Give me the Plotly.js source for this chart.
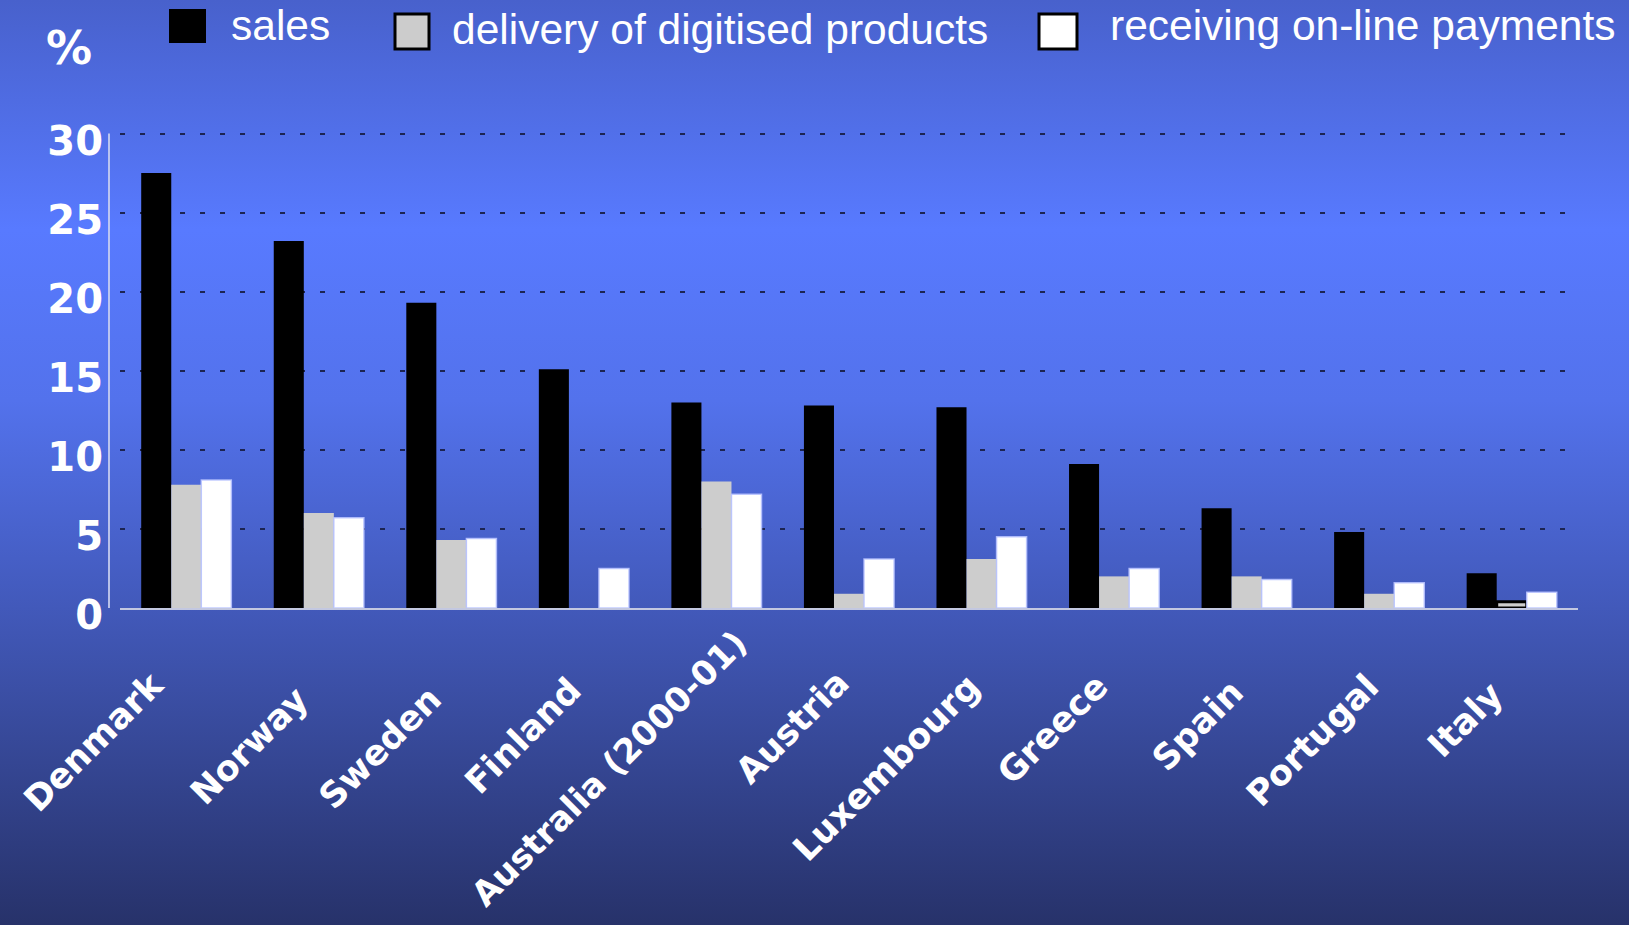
<!DOCTYPE html>
<html>
<head>
<meta charset="utf-8">
<script src="https://cdn.plot.ly/plotly-3.0.1.min.js"></script>
<style>
  html, body { margin: 0; padding: 0; }
  body {
    width: 1629px; height: 925px; overflow: hidden;
    background: linear-gradient(to bottom,
      rgb(72,97,204) 0px,
      rgb(88,122,255) 230px,
      rgb(83,114,236) 400px,
      rgb(66,89,186) 608px,
      rgb(39,50,106) 925px);
  }
  #chart { width: 1629px; height: 925px; }
</style>
</head>
<body>
<div id="chart"></div>
<script>
// ---- data ----
const categories = ['Denmark', 'Norway', 'Sweden', 'Finland', 'Australia (2000-01)', 'Austria',
                    'Luxembourg', 'Greece', 'Spain', 'Portugal', 'Italy'];
const seriesNames = ['sales', 'delivery of digitised products', 'receiving on-line payments'];
const sales     = [27.5, 23.2, 19.3, 15.1, 13.0, 12.8, 12.7, 9.1, 6.3, 4.8, 2.2];
const delivery  = [7.8, 6.0, 4.3, null, 8.0, 0.9, 3.1, 2.0, 2.0, 0.9, 0.4];
const receiving = [8.1, 5.7, 4.4, 2.5, 7.2, 3.1, 4.5, 2.5, 1.8, 1.6, 1.0];
const yTicks = [0, 5, 10, 15, 20, 25, 30];
const yUnit = '%';

// ---- styling: per-label placement of the rotated category labels (pixels) ----
const labelShiftX = [-14, -2, -1, 6, 40, 9, 7, 3, 6, 9, 0];
const labelTopY   = [663, 678, 678, 669, 621, 661, 665, 665, 670, 665, 673];
const labelSize   = [35, 35, 35, 35, 34, 35, 35, 35, 35, 35, 35];

// ---- layout geometry (pixels) ----
const W = 1629, H = 925;
const M = {l: 120, r: 51, t: 132, b: 317};
const pw = W - M.l - M.r, ph = H - M.t - M.b;
const xp = px => (px - M.l) / pw;
const yp = py => (H - M.b - py) / ph;

const boldFamily = 'DejaVu Sans, Verdana, sans-serif';
const labelFont = {family: boldFamily, size: 40, color: '#ffffff', weight: 'bold'};
const legendFont = {family: 'Liberation Sans, Arial, sans-serif', size: 42.5, color: '#ffffff'};

const traces = [
  {type: 'bar', name: seriesNames[0], x: categories, y: sales,
   marker: {color: '#000000', line: {width: 0}}},
  {type: 'bar', name: seriesNames[1], x: categories, y: delivery,
   marker: {color: '#cdcdcd',
            line: {color: categories.map((c, i) => i === categories.length - 1 ? '#000000' : 'rgba(0,0,0,0)'),
                   width: categories.map((c, i) => i === categories.length - 1 ? 3 : 0)}}},
  {type: 'bar', name: seriesNames[2], x: categories, y: receiving,
   marker: {color: '#ffffff', line: {color: 'rgba(185,195,255,0.85)', width: 1.5}}}
];

// custom legend
const legendItems = [
  {box: [169, 9, 206, 43], fill: '#000000', border: 0, tx: 229, ty: 26},
  {box: [395, 14, 429, 49], fill: '#cccccc', border: 3, tx: 450, ty: 29},
  {box: [1039, 14, 1077, 49], fill: '#ffffff', border: 3, tx: 1108, ty: 26}
];

const shapes = [
  // y axis line (sits left of the plot area)
  {type: 'line', xref: 'paper', yref: 'y', x0: xp(109), x1: xp(109), y0: 0, y1: 30,
   line: {color: 'rgba(205,210,240,0.85)', width: 2}}
];
const annotations = [
  {xref: 'paper', yref: 'paper', x: xp(69), y: yp(48), text: yUnit, showarrow: false,
   xanchor: 'center', yanchor: 'middle', font: {family: boldFamily, size: 46, color: '#ffffff', weight: 'bold'}}
];
legendItems.forEach((it, i) => {
  shapes.push({type: 'rect', xref: 'paper', yref: 'paper',
    x0: xp(it.box[0]), x1: xp(it.box[2]), y0: yp(it.box[3]), y1: yp(it.box[1]),
    fillcolor: it.fill, line: {color: '#000000', width: it.border}});
  annotations.push({xref: 'paper', yref: 'paper', x: xp(it.tx), y: yp(it.ty), text: seriesNames[i],
    showarrow: false, xanchor: 'left', yanchor: 'middle', font: legendFont});
});
// rotated category labels
categories.forEach((c, i) => {
  annotations.push({xref: 'x', yref: 'paper', x: c, y: yp(labelTopY[i]), xshift: labelShiftX[i],
    text: c, textangle: -45, showarrow: false, xanchor: 'right', yanchor: 'top',
    borderpad: 0, font: {family: boldFamily, size: labelSize[i], color: '#ffffff', weight: 'bold'}});
});

const layout = {
  width: W, height: H,
  margin: M,
  paper_bgcolor: 'rgba(0,0,0,0)',
  plot_bgcolor: 'rgba(0,0,0,0)',
  showlegend: false,
  barmode: 'group',
  bargap: 0.32,
  bargroupgap: 0,
  xaxis: {
    type: 'category', automargin: false, autorange: false,
    range: [-0.5, categories.length - 0.5],
    showline: true, linecolor: 'rgba(210,212,230,0.9)', linewidth: 2,
    showgrid: false, zeroline: false, ticks: '', showticklabels: false
  },
  yaxis: {
    range: [0, 30.1], autorange: false, automargin: false,
    tickvals: yTicks, ticktext: yTicks.map(String),
    showline: false, zeroline: false, ticks: '',
    showgrid: true, gridcolor: '#1c2452', gridwidth: 2, griddash: '5px,15px',
    tickfont: labelFont,
    ticklabelstandoff: 16, ticklabelshift: 7
  },
  shapes: shapes,
  annotations: annotations
};

Plotly.newPlot('chart', traces, layout, {displayModeBar: false, staticPlot: true});
</script>
</body>
</html>
